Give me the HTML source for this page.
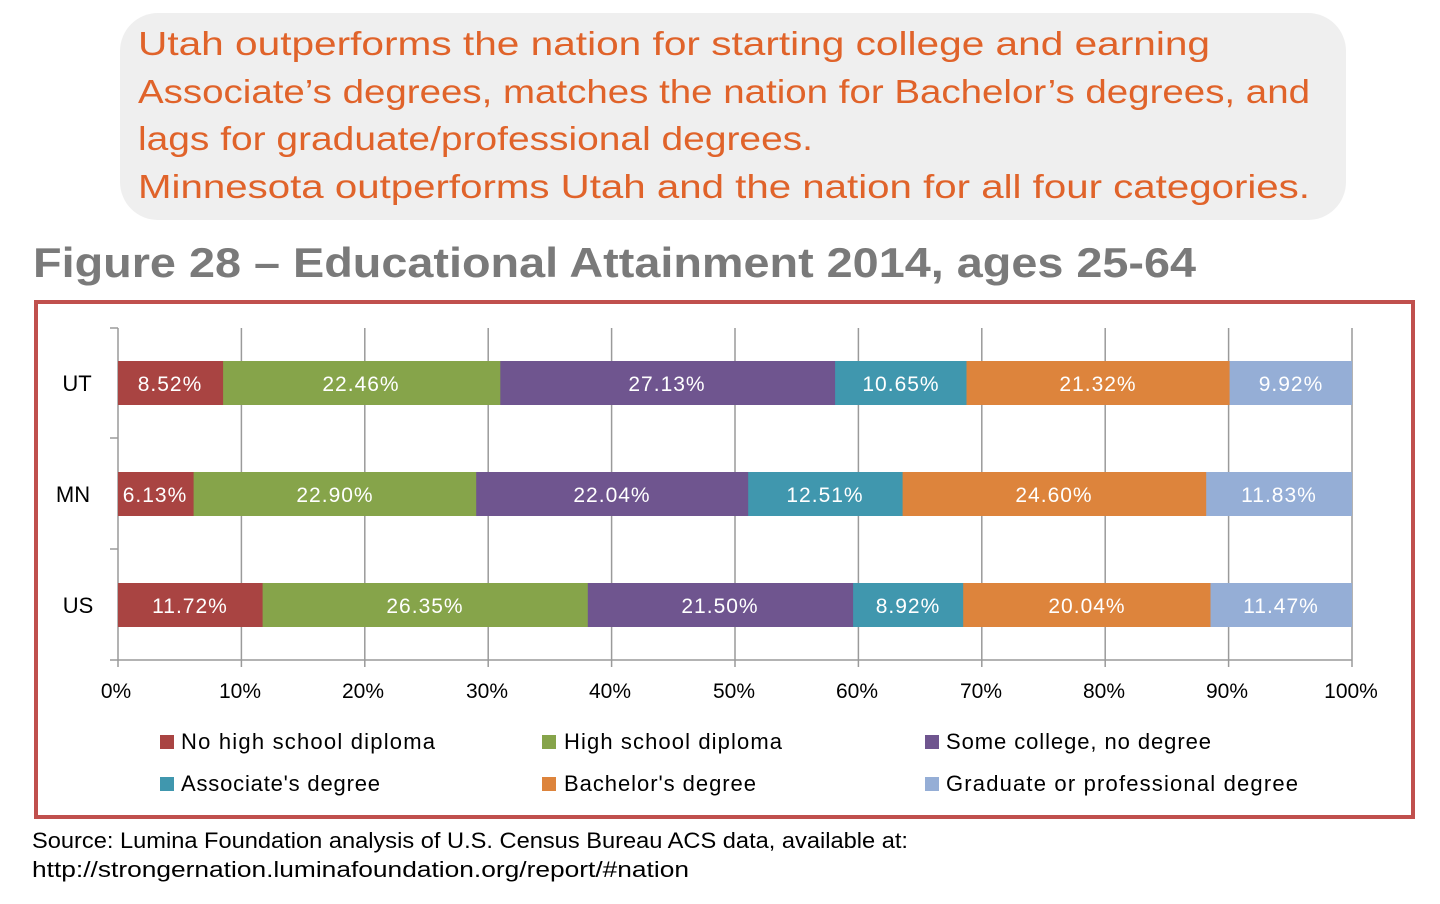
<!DOCTYPE html>
<html><head><meta charset="utf-8">
<style>
html,body{margin:0;padding:0;background:#fff;}
svg{display:block;}
text{font-family:"Liberation Sans",sans-serif;}
</style></head><body>
<svg width="1440" height="904" viewBox="0 0 1440 904" xmlns="http://www.w3.org/2000/svg">
<rect x="120" y="13" width="1226" height="207" rx="38" fill="#efefef"/>
<g fill="#e0632a" font-size="33">
<text x="138" y="55" textLength="1072" lengthAdjust="spacingAndGlyphs">Utah outperforms the nation for starting college and earning</text>
<text x="138" y="103" textLength="1172" lengthAdjust="spacingAndGlyphs">Associate’s degrees, matches the nation for Bachelor’s degrees, and</text>
<text x="138" y="150" textLength="675" lengthAdjust="spacingAndGlyphs">lags for graduate/professional degrees.</text>
<text x="138" y="198" textLength="1172" lengthAdjust="spacingAndGlyphs">Minnesota outperforms Utah and the nation for all four categories.</text>
</g>
<text x="33" y="277" font-size="42" font-weight="bold" fill="#7a7a7a" textLength="1163" lengthAdjust="spacingAndGlyphs">Figure 28 – Educational Attainment 2014, ages 25-64</text>
<rect x="36" y="302" width="1377" height="515" fill="none" stroke="#c0504d" stroke-width="4"/>
<g stroke="#9a9a9a" stroke-width="1.5">
<line x1="118" y1="328" x2="118" y2="667"/>
<line x1="110" y1="328" x2="118" y2="328"/>
<line x1="110" y1="438" x2="118" y2="438"/>
<line x1="110" y1="549" x2="118" y2="549"/>
<line x1="110" y1="660" x2="1352" y2="660"/>
<line x1="241.4" y1="328" x2="241.4" y2="667"/>
<line x1="364.8" y1="328" x2="364.8" y2="667"/>
<line x1="488.2" y1="328" x2="488.2" y2="667"/>
<line x1="611.6" y1="328" x2="611.6" y2="667"/>
<line x1="735" y1="328" x2="735" y2="667"/>
<line x1="858.4" y1="328" x2="858.4" y2="667"/>
<line x1="981.8" y1="328" x2="981.8" y2="667"/>
<line x1="1105.2" y1="328" x2="1105.2" y2="667"/>
<line x1="1228.6" y1="328" x2="1228.6" y2="667"/>
<line x1="1352" y1="328" x2="1352" y2="667"/>
</g>
<g>
<rect x="118" y="361" width="105.6" height="44" fill="#a94442"/>
<rect x="223.1" y="361" width="277.7" height="44" fill="#86a44a"/>
<rect x="500.3" y="361" width="335.3" height="44" fill="#6f558f"/>
<rect x="835.1" y="361" width="131.9" height="44" fill="#4097ae"/>
<rect x="966.5" y="361" width="263.6" height="44" fill="#dd843c"/>
<rect x="1229.6" y="361" width="122.4" height="44" fill="#95aed6"/>
<rect x="118" y="472" width="76.1" height="44" fill="#a94442"/>
<rect x="193.6" y="472" width="283.1" height="44" fill="#86a44a"/>
<rect x="476.2" y="472" width="272.5" height="44" fill="#6f558f"/>
<rect x="748.2" y="472" width="154.9" height="44" fill="#4097ae"/>
<rect x="902.6" y="472" width="304.1" height="44" fill="#dd843c"/>
<rect x="1206.2" y="472" width="145.8" height="44" fill="#95aed6"/>
<rect x="118" y="583" width="145.1" height="44" fill="#a94442"/>
<rect x="262.6" y="583" width="325.7" height="44" fill="#86a44a"/>
<rect x="587.8" y="583" width="265.8" height="44" fill="#6f558f"/>
<rect x="853.1" y="583" width="110.6" height="44" fill="#4097ae"/>
<rect x="963.2" y="583" width="247.8" height="44" fill="#dd843c"/>
<rect x="1210.5" y="583" width="141.5" height="44" fill="#95aed6"/>
</g>
<g font-size="21" fill="#fff" text-anchor="middle" letter-spacing="1">
<text x="170" y="391">8.52%</text><text x="361" y="391">22.46%</text><text x="667" y="391">27.13%</text><text x="901" y="391">10.65%</text><text x="1098" y="391">21.32%</text><text x="1291" y="391">9.92%</text>
<text x="155" y="502">6.13%</text><text x="335" y="502">22.90%</text><text x="612" y="502">22.04%</text><text x="825" y="502">12.51%</text><text x="1054" y="502">24.60%</text><text x="1279" y="502">11.83%</text>
<text x="190" y="613">11.72%</text><text x="425" y="613">26.35%</text><text x="720" y="613">21.50%</text><text x="908" y="613">8.92%</text><text x="1087" y="613">20.04%</text><text x="1281" y="613">11.47%</text>
</g>
<g font-size="22" fill="#000" text-anchor="middle">
<text x="77" y="391">UT</text><text x="73" y="502">MN</text><text x="78" y="613">US</text>
</g>
<g font-size="21" fill="#000" text-anchor="middle">
<text x="116" y="698">0%</text><text x="240" y="698">10%</text><text x="363" y="698">20%</text><text x="487" y="698">30%</text><text x="610" y="698">40%</text><text x="734" y="698">50%</text><text x="857" y="698">60%</text><text x="981" y="698">70%</text><text x="1104" y="698">80%</text><text x="1227" y="698">90%</text><text x="1351" y="698">100%</text>
</g>
<g font-size="22" fill="#000" lengthAdjust="spacingAndGlyphs">
<rect x="160" y="735" width="14" height="14" fill="#a94442"/><text x="181" y="749" textLength="254">No high school diploma</text>
<rect x="542" y="735" width="14" height="14" fill="#86a44a"/><text x="564" y="749" textLength="218">High school diploma</text>
<rect x="925" y="735" width="14" height="14" fill="#6f558f"/><text x="946" y="749" textLength="265">Some college, no degree</text>
<rect x="160" y="777" width="14" height="14" fill="#4097ae"/><text x="181" y="791" textLength="199">Associate's degree</text>
<rect x="542" y="777" width="14" height="14" fill="#dd843c"/><text x="564" y="791" textLength="192">Bachelor's degree</text>
<rect x="925" y="777" width="14" height="14" fill="#95aed6"/><text x="946" y="791" textLength="352">Graduate or professional degree</text>
</g>
<g font-size="22" fill="#000">
<text x="32" y="848" textLength="876" lengthAdjust="spacingAndGlyphs">Source: Lumina Foundation analysis of U.S. Census Bureau ACS data, available at:</text>
<text x="32" y="877" textLength="657" lengthAdjust="spacingAndGlyphs">http://strongernation.luminafoundation.org/report/#nation</text>
</g>
</svg>
</body></html>
